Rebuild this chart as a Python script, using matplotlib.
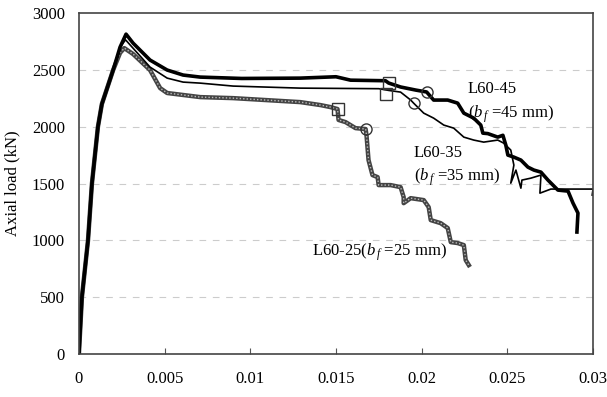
import matplotlib
matplotlib.use("Agg")
import matplotlib.pyplot as plt

plt.rcParams['font.family'] = ['Liberation Serif', 'DejaVu Serif']
plt.rcParams['mathtext.fontset'] = 'custom'
plt.rcParams['mathtext.it'] = 'Liberation Serif:italic'
plt.rcParams['mathtext.rm'] = 'Liberation Serif'

# L60-45 (thick black)
s45 = [0, 0.000175, 0.00053, 0.00076, 0.00111, 0.00134, 0.0020, 0.0024, 0.00275,
       0.00316, 0.00415, 0.00515, 0.00608, 0.00708, 0.0095, 0.01292, 0.0150, 0.01585,
       0.01789, 0.01807, 0.01877, 0.01965, 0.02029, 0.0207, 0.02152, 0.0221, 0.02246,
       0.02304, 0.02345, 0.02357, 0.02386, 0.02444, 0.02474, 0.02491, 0.02503, 0.02538,
       0.02579, 0.0262, 0.02655, 0.02696, 0.02737, 0.02795, 0.02854, 0.02883, 0.02912, 0.02906]
p45 = [0, 500, 1000, 1500, 2000, 2200, 2500, 2700, 2815,
       2736, 2587, 2499, 2455, 2437, 2425, 2428, 2440, 2410,
       2405, 2385, 2350, 2323, 2306, 2235, 2235, 2208, 2120,
       2076, 2015, 1944, 1940, 1909, 1925, 1839, 1751, 1733,
       1707, 1645, 1619, 1601, 1531, 1443, 1434, 1329, 1241, 1074]

# L60-35 (thin black)
s35 = [0, 0.000175, 0.00053, 0.00076, 0.00111, 0.00134, 0.0020, 0.0024, 0.00272,
       0.00415, 0.00515, 0.00608, 0.00708, 0.009, 0.01292, 0.0175, 0.01807, 0.01877,
       0.01936, 0.01953, 0.02012, 0.0207, 0.02129, 0.02187, 0.02246, 0.02304, 0.02362,
       0.02444, 0.02479, 0.0252, 0.02538, 0.0252, 0.0255, 0.02579, 0.02585, 0.02637,
       0.02696, 0.0269, 0.02754, 0.0300, 0.02995]
p35 = [0, 500, 1000, 1500, 2000, 2200, 2500, 2700, 2765,
       2525, 2428, 2393, 2384, 2358, 2340, 2335, 2320, 2305,
       2235, 2208, 2120, 2076, 2015, 1988, 1909, 1883, 1865,
       1883, 1856, 1795, 1663, 1504, 1619, 1460, 1531, 1548,
       1575, 1416, 1452, 1452, 1399]

# L60-25 (grey hatched)
s25 = [0, 0.000175, 0.00053, 0.00076, 0.00111, 0.00134, 0.0020, 0.0024, 0.00265,
       0.00316, 0.00415, 0.00474, 0.00515, 0.00708, 0.009, 0.01292, 0.01409, 0.01468,
       0.01509, 0.01515, 0.01556, 0.01614, 0.01673, 0.01678, 0.0169, 0.01713, 0.01743,
       0.01749, 0.01819, 0.01877, 0.01895, 0.01895, 0.01936, 0.02012, 0.02041, 0.02053,
       0.02111, 0.02152, 0.0217, 0.0221, 0.02246, 0.02257, 0.02275]
p25 = [0, 500, 1000, 1500, 2000, 2200, 2500, 2650, 2692,
       2640, 2499, 2340, 2297, 2261, 2252, 2217, 2191, 2173,
       2156, 2060, 2041, 1988, 1980, 1927, 1707, 1575, 1557,
       1487, 1487, 1469, 1381, 1328, 1372, 1355, 1293, 1179,
       1152, 1109, 985, 977, 959, 827, 783]

# failure markers: (strain, load)
sq_s = [0.01807, 0.0179, 0.01509]
sq_p = [2385, 2290, 2156]
ci_s = [0.02029, 0.01953, 0.01673]
ci_p = [2306, 2208, 1980]

fig = plt.figure(figsize=(6.07, 3.97), dpi=100)
ax = fig.add_axes([0.130, 0.108, 0.847, 0.859])

ax.plot(s25, p25, color='#444444', lw=3.2, solid_joinstyle='round')
ax.plot(s25, p25, color='#bbbbbb', lw=1.0, ls=(0, (1, 1.5)))
ax.plot(s35, p35, color='black', lw=1.2)
ax.plot(s45, p45, color='black', lw=2.6)

ax.plot(sq_s, sq_p, 's', ms=8, mfc='none', mec='#333333', mew=1.0)
ax.plot(ci_s, ci_p, 'o', ms=8, mfc='none', mec='#333333', mew=1.0)

ax.set_xlim(0, 0.03)
ax.set_ylim(0, 3000)
ax.set_xticks([0, 0.005, 0.01, 0.015, 0.02, 0.025, 0.03])
ax.set_xticklabels(['0', '0.005', '0.01', '0.015', '0.02', '0.025', '0.03'])
ax.set_yticks(range(0, 3001, 500))
ax.tick_params(axis='x', direction='in', length=4, labelsize=12, pad=12, color='#555555')
ax.tick_params(axis='y', length=0, labelsize=12, pad=10)
for y in range(500, 3000, 500):
    ax.axhline(y, color='#cccccc', lw=0.8, ls=(0, (6, 6)), zorder=0)
for sp in ax.spines.values():
    sp.set_color('#444444')
    sp.set_linewidth(1.2)

ax.set_ylabel('Axial load (kN)', fontsize=12, labelpad=8)
# x label sits mostly below the picture edge, as in the source image
fig.text(0.553, -0.022, 'Axial strain', fontsize=12, ha='center', va='center')

ax.text(0.02270, 2330, 'L60-45', fontsize=12, va='center')
ax.text(0.02270, 2110, r'($b_{\,f}$ =45 mm)', fontsize=12, va='center')
ax.text(0.01955, 1770, 'L60-35', fontsize=12, va='center')
ax.text(0.01955, 1560, r'($b_{\,f}$ =35 mm)', fontsize=12, va='center')
ax.text(0.01360, 900, r'L60-25($b_{\,f}$ =25 mm)', fontsize=12, va='center')

fig.savefig('out.png', dpi=100)
